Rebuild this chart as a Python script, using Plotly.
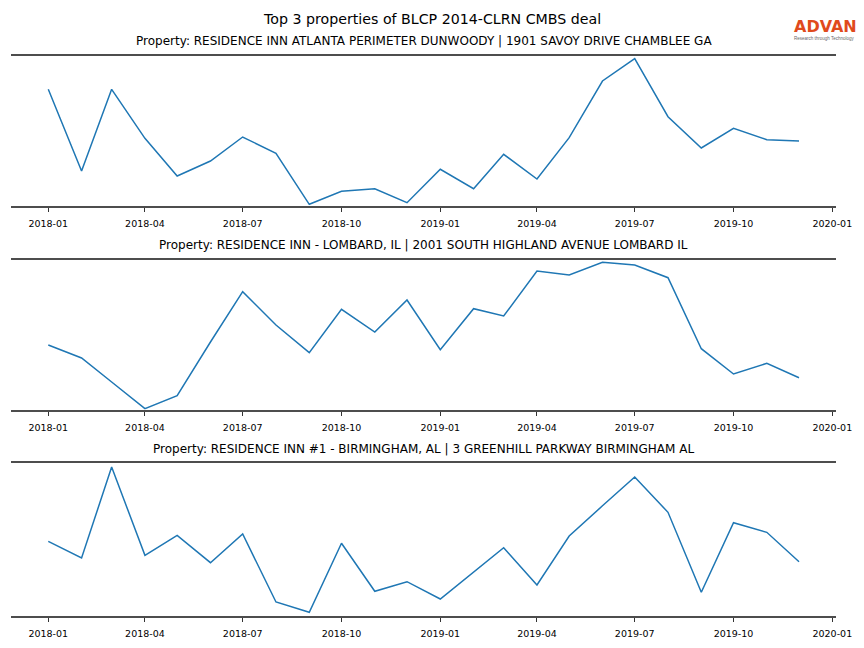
import plotly.graph_objects as go

months = ["2018-01-01", "2018-02-01", "2018-03-01", "2018-04-01", "2018-05-01", "2018-06-01",
          "2018-07-01", "2018-08-01", "2018-09-01", "2018-10-01", "2018-11-01", "2018-12-01",
          "2019-01-01", "2019-02-01", "2019-03-01", "2019-04-01", "2019-05-01", "2019-06-01",
          "2019-07-01", "2019-08-01", "2019-09-01", "2019-10-01", "2019-11-01", "2019-12-01"]

atlanta = [116.4, 34.7, 116.4, 67.4, 29.7, 44.7, 68.7, 52.4, 1.4, 14.4, 17.0, 3.0,
           36.4, 17.0, 51.4, 26.7, 68.0, 124.7, 147.0, 89.0, 57.7, 77.4, 66.0, 64.7]
lombard = [64.7, 51.7, 27.7, 1.0, 14.0, 67.7, 118.0, 84.7, 57.0, 100.4, 77.7, 109.7,
           60.0, 101.0, 93.7, 138.7, 134.7, 147.4, 144.7, 132.0, 61.0, 35.7, 46.4, 32.0]
birmingham = [74.4, 57.7, 148.7, 60.4, 80.4, 53.0, 81.7, 13.7, 3.4, 72.4, 24.4, 34.0,
              16.7, 43.2, 68.0, 30.7, 79.7, 109.9, 138.7, 103.4, 23.4, 93.0, 83.4, 54.0]

series = [atlanta, lombard, birmingham]
y_ranges = [[0, 150], [0, 150], [0, 152.7]]
subtitles = [
    "Property: RESIDENCE INN ATLANTA PERIMETER DUNWOODY | 1901 SAVOY DRIVE CHAMBLEE GA",
    "Property: RESIDENCE INN - LOMBARD, IL | 2001 SOUTH HIGHLAND AVENUE LOMBARD IL",
    "Property: RESIDENCE INN #1 - BIRMINGHAM, AL | 3 GREENHILL PARKWAY BIRMINGHAM AL",
]
main_title = "Top 3 properties of BLCP 2014-CLRN CMBS deal"

# The page body keeps its default 8px margin, so the figure is sized to fill
# the 864x648 window exactly; positions below are given in window pixels.
PAGE_W, PAGE_H, OFF = 864, 648, 8
W, H = PAGE_W - 2 * OFF, PAGE_H - 2 * OFF
FONT = "DejaVu Sans"


def px_x(x):
    return (x - OFF) / W


def px_y(y):
    return (H - (y - OFF)) / H


x_dom = [px_x(11), px_x(836)]
panels_px = [(55.7, 205.7), (259.7, 409.7), (463.0, 615.7)]
x_range = ["2017-11-27 07:00", "2020-01-04 10:00"]

fig = go.Figure()
annotations = []
for i, (vals, (top, bot)) in enumerate(zip(series, panels_px)):
    n = "" if i == 0 else str(i + 1)
    fig.add_trace(go.Scatter(x=months, y=vals, mode="lines",
                             line=dict(color="#1f77b4", width=1.5),
                             xaxis="x" + n, yaxis="y" + n, showlegend=False,
                             hoverinfo="skip"))
    fig.layout["xaxis" + n] = dict(
        domain=x_dom, anchor="y" + n, type="date", range=x_range,
        tick0="2018-01-01", dtick="M3", tickformat="%Y-%m",
        ticks="outside", ticklen=4, tickwidth=0.8, tickcolor="#333333",
        ticklabelstandoff=4,
        showline=True, linecolor="#4d4d4d", linewidth=2, mirror=True,
        showgrid=False, zeroline=False,
        tickfont=dict(family=FONT, size=9.5, color="#000000"),
    )
    fig.layout["yaxis" + n] = dict(
        domain=[px_y(bot), px_y(top)], anchor="x" + n, range=y_ranges[i],
        visible=False, showgrid=False, zeroline=False,
    )
    annotations.append(dict(
        text=subtitles[i], x=(x_dom[0] + x_dom[1]) / 2, xref="paper",
        y=px_y(top - 5.5), yref="paper", xanchor="center", yanchor="bottom",
        showarrow=False, font=dict(family=FONT, size=12, color="#000000"),
    ))

annotations.append(dict(
    text=main_title, x=px_x(432), xref="paper", y=px_y(19.5), yref="paper",
    xanchor="center", yanchor="middle", showarrow=False,
    font=dict(family=FONT, size=14.2, color="#000000"),
))
# logo
annotations.append(dict(
    text="<b>ADVAN</b>", x=px_x(825), xref="paper", y=px_y(26), yref="paper",
    xanchor="center", yanchor="middle", showarrow=False,
    font=dict(family="DejaVu Sans", size=16, color="#e04a1c"),
))
annotations.append(dict(
    text="Research through Technology", x=px_x(824), xref="paper", y=px_y(38),
    yref="paper", xanchor="center", yanchor="middle", showarrow=False,
    font=dict(family="Liberation Sans", size=4.5, color="#666666"),
))

fig.update_layout(
    width=W, height=H, margin=dict(l=0, r=0, t=0, b=0, autoexpand=False),
    paper_bgcolor="white", plot_bgcolor="white",
    annotations=annotations,
)

fig.write_html("out.html", config={"displayModeBar": False})
